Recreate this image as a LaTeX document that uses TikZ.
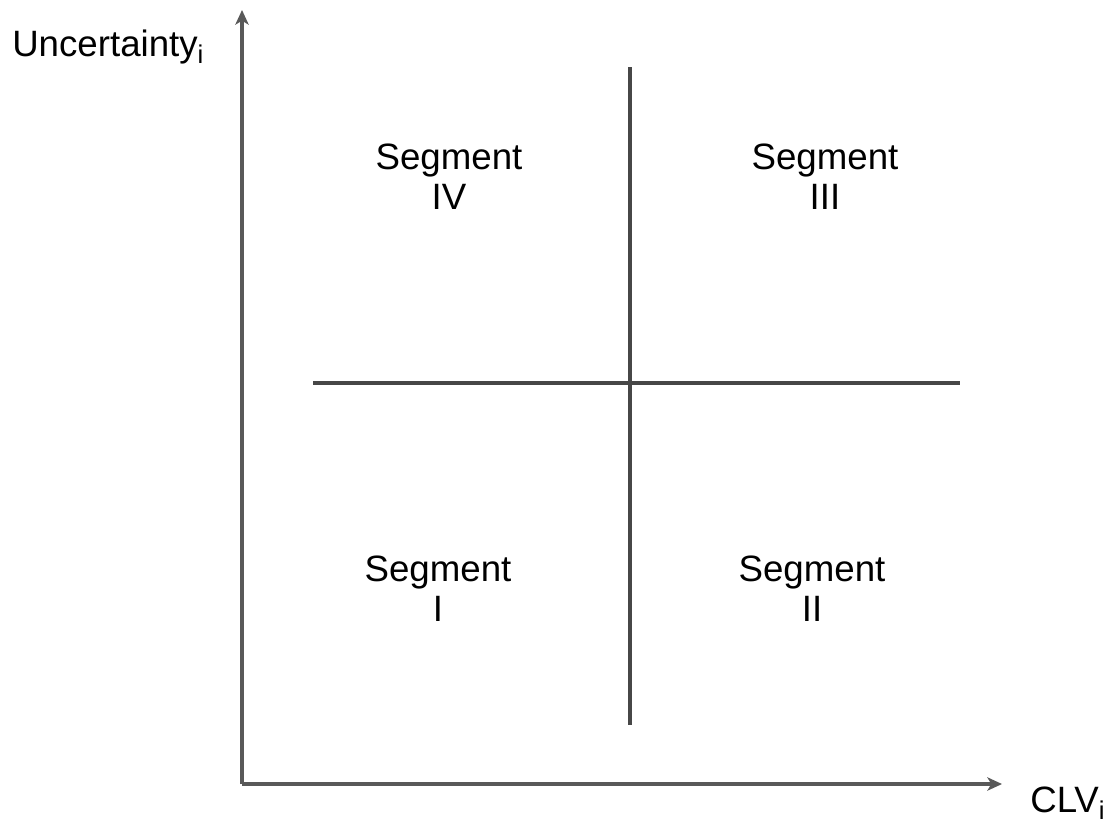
\documentclass[tikz,border=0pt]{standalone}
\usepackage{fontspec}
\setmainfont{Liberation Sans}
\usetikzlibrary{arrows.meta}
\begin{document}
\begin{tikzpicture}[x=0.75pt,y=-0.75pt,
  axis/.style={draw=black!65,line width=2.3pt,-{Stealth[length=11pt,width=10pt,inset=3pt]}},
  divider/.style={draw=black!72,line width=2.3pt},
  seg/.style={font=\fontsize{27.5}{30}\selectfont,align=center,inner sep=0pt},
  lab/.style={font=\fontsize{27.5}{30}\selectfont,inner sep=0pt}]
\useasboundingbox[fill=white] (0,0) rectangle (1120,829);
\coordinate (o) at (242,784);
\coordinate (ytop) at (242,10);
\coordinate (xend) at (1002,784);
\draw[axis] (o) -- (ytop);
\draw[axis] (o) -- (xend);
\coordinate (vt) at (630,67);
\coordinate (vb) at (630,725);
\coordinate (hl) at (313,383);
\coordinate (hr) at (960,383);
\draw[divider] (vt) -- (vb);
\draw[divider] (hl) -- (hr);
\node[seg] (s4) at (449,177) {Segment\\IV};
\node[seg] (s3) at (825,177) {Segment\\III};
\node[seg] (s1) at (438,589) {Segment\\I};
\node[seg] (s2) at (812,589) {Segment\\II};
\node[lab,anchor=base west] (ylab) at (12,56) {Uncertainty\textsubscript{i}};
\node[lab,anchor=base west] (xlab) at (1030,812) {CLV\textsubscript{i}};
\end{tikzpicture}
\end{document}
